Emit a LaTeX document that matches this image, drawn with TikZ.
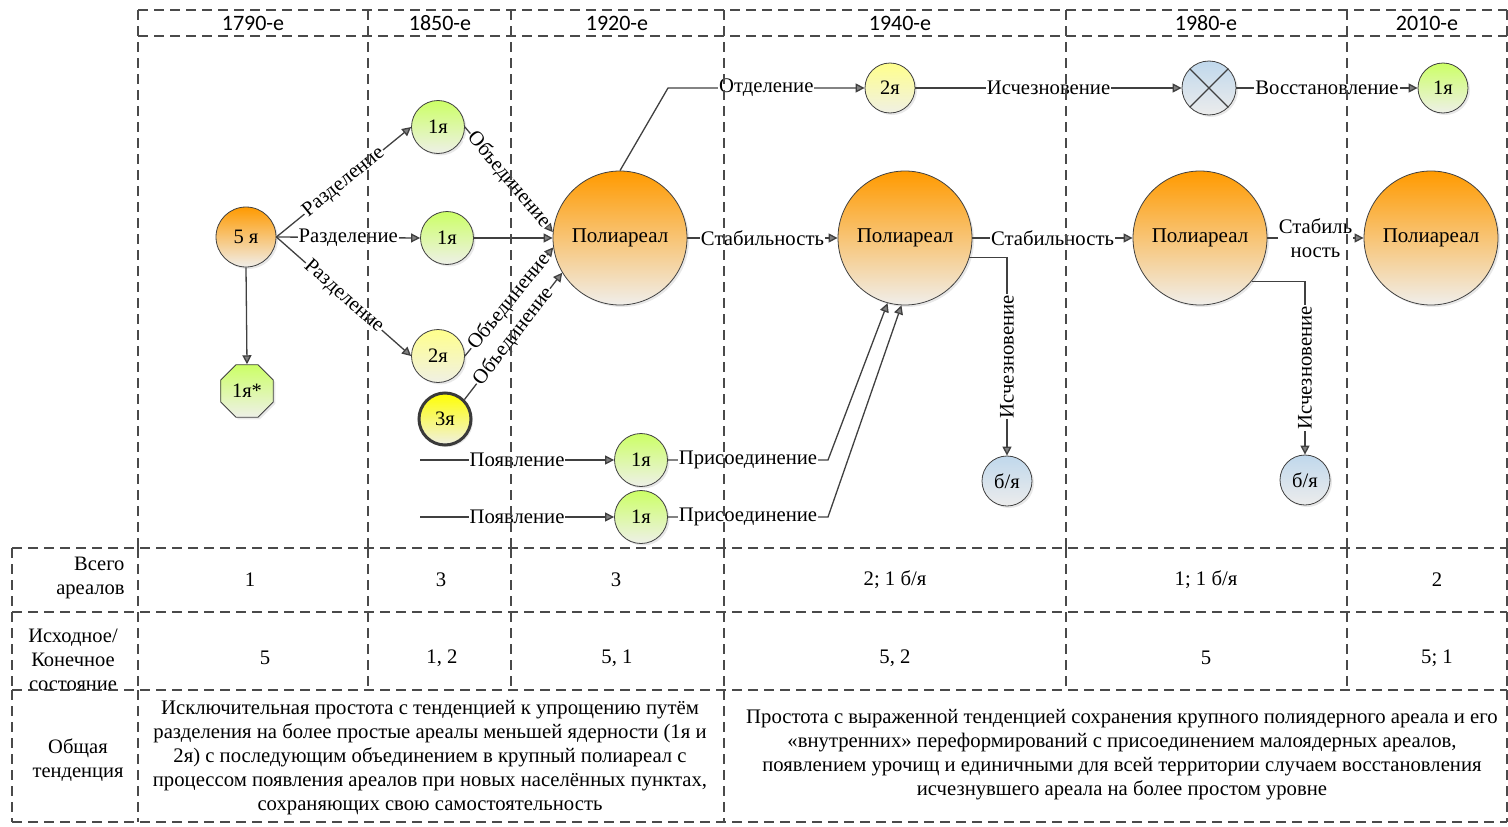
\documentclass[tikz,border=0pt]{standalone}
\usepackage{fontspec}
\setmainfont{Liberation Serif}
\newfontfamily\hdrfont{Carlito}
\usetikzlibrary{arrows.meta,shapes.geometric,shadows}
\definecolor{ln}{HTML}{404040}
\definecolor{dsh}{HTML}{4A4A4A}
\definecolor{orng}{HTML}{FF9A00}
\definecolor{orngb}{HTML}{F0EEEA}
\definecolor{grn}{HTML}{CCFF66}
\definecolor{grnb}{HTML}{EEF0E8}
\definecolor{ylw}{HTML}{FFFF8C}
\definecolor{ylwb}{HTML}{F0F0E4}
\definecolor{ylwt}{HTML}{FFFF00}
\definecolor{blu}{HTML}{C0D8EC}
\definecolor{blub}{HTML}{ECECEC}
\definecolor{tipc}{HTML}{808080}
\begin{document}
\begin{tikzpicture}[x=1pt,y=-1pt,
  every node/.style={font=\fontsize{20.7}{24}\selectfont},
  grid/.style={draw=dsh, line width=1.5pt, dash pattern=on 10pt off 6pt},
  area/.style={circle, draw=ln, line width=0.8pt, inner sep=0pt,
     font=\fontsize{20.5}{24}\selectfont,
     drop shadow={opacity=0.18, shadow xshift=2pt, shadow yshift=-2pt}},
  bigarea/.style={area, minimum size=134pt, top color=orng, bottom color=orngb,
     font=\fontsize{21}{24}\selectfont},
  orarea/.style={area, minimum size=60pt, top color=orng, bottom color=orngb},
  grarea/.style={area, minimum size=53pt, top color=grn, bottom color=grnb},
  ylarea/.style={area, minimum size=53pt, top color=ylw, bottom color=ylwb},
  blarea/.style={area, minimum size=52pt, top color=blu, bottom color=blub},
  conn/.style={draw=ln, line width=1.3pt, -{Triangle[length=9pt, width=9pt, fill=tipc]}},
  lbl/.style={fill=white, inner sep=1pt},
  hdr/.style={font=\hdrfont\fontsize{22}{24}\selectfont},
  rowhead/.style={align=center, font=\fontsize{20.5}{24}\selectfont},
  cell/.style={align=center}
]
\useasboundingbox (0,0) rectangle (1508,827);

% ---------- header ----------
\node[hdr] (h1) at (253,23) {1790-е};
\node[hdr] (h2) at (440,23) {1850-е};
\node[hdr] (h3) at (617,23) {1920-е};
\node[hdr] (h4) at (900,23) {1940-е};
\node[hdr] (h5) at (1206,23) {1980-е};
\node[hdr] (h6) at (1427,23) {2010-е};

% ---------- nodes ----------
\node[orarea] (n5) at (246,237) {5 я};
\node[regular polygon, regular polygon sides=8, minimum size=57pt, inner sep=0pt,
      draw=ln, line width=0.8pt, top color=grn, bottom color=grnb,
      font=\fontsize{20.5}{24}\selectfont,
      drop shadow={opacity=0.18, shadow xshift=2pt, shadow yshift=-2pt}] (oct) at (247,391) {1я*};
\node[grarea] (t1) at (438,127) {1я};
\node[grarea] (m1) at (447,238) {1я};
\node[ylarea] (t2) at (438,356) {2я};
\node[area, minimum size=52pt, draw=ln!90!black, line width=3pt, top color=ylwt, bottom color=ylwb] (t3) at (445,419) {3я};
\node[bigarea] (P1) at (620,238) {Полиареал};
\node[bigarea] (P2) at (905,238) {Полиареал};
\node[bigarea] (P3) at (1200,238) {Полиареал};
\node[bigarea] (P4) at (1431,238) {Полиареал};
\node[ylarea, minimum size=50pt] (u2) at (890,88) {2я};
\node[blarea, minimum size=54pt] (xx) at (1209,88) {};
\draw[ln, line width=1.2pt] (xx.45) -- (xx.225) (xx.135) -- (xx.315);
\node[grarea, minimum size=50pt] (u1) at (1443,88) {1я};
\node[grarea] (g1) at (641,460) {1я};
\node[grarea] (g2) at (641,517) {1я};
\node[blarea, minimum size=50pt] (b1) at (1007,481) {б/я};
\node[blarea, minimum size=50pt] (b2) at (1305,480) {б/я};

\coordinate (c1) at (668,88);
\coordinate (e1) at (420,460);
\coordinate (e2) at (420,517);
\coordinate (k1) at (828,460);
\coordinate (k2) at (828,517);

% ---------- connectors ----------
\draw[conn] (n5.east) -- node[lbl, sloped] {Разделение} (t1.west);
\draw[conn] (n5.east) -- node[lbl] {Разделение} (m1.west);
\draw[conn] (n5.east) -- node[lbl, sloped] {Разделение} (t2.west);
\draw[conn] (n5.south) -- (oct.north);

\draw[conn] (t1.east) -- node[lbl, sloped] {Объединение} (P1.175);
\draw[conn] (m1.east) -- (P1.west);
\draw[conn] (t2.east) -- node[lbl, sloped] {Объединение} (P1.188);
\draw[conn] (t3.45) -- node[lbl, sloped] {Объединение} (P1.211);

\draw[conn] (P1.north) -- (c1) -- node[lbl] {Отделение} (u2.west);
\draw[conn] (u2.east) -- node[lbl] {Исчезновение} (xx.west);
\draw[conn] (xx.east) -- node[lbl] {Восстановление} (u1.west);

\draw[conn] (P1.east) -- node[lbl] {Стабильность} (P2.west);
\draw[conn] (P2.east) -- node[lbl] {Стабильность} (P3.west);
\draw[conn] (P3.east) -- node[lbl, align=center] {Стабиль\\ность} (P4.west);

\draw[conn] (P2.-17) -| node[lbl, pos=0.75, rotate=90] {Исчезновение} (b1.north);
\draw[conn] (P3.-40) -| node[lbl, pos=0.75, rotate=90] {Исчезновение} (b2.north);

\draw[conn] (e1) -- node[lbl] {Появление} (g1.west);
\draw[conn] (e2) -- node[lbl] {Появление} (g2.west);
\draw[conn] (g1.east) -- node[lbl] {Присоединение} (k1) -- (P2.255);
\draw[conn] (g2.east) -- node[lbl] {Присоединение} (k2) -- (P2.267);

% ---------- table ----------
\node[rowhead, align=right, anchor=east] (r1h) at (128,578) {Всего\\ареалов};
\node (r1a) at (250,580) {1};
\node (r1b) at (441,580) {3};
\node (r1c) at (616,580) {3};
\node (r1d) at (895,580) {2; 1 б/я};
\node (r1e) at (1206,580) {1; 1 б/я};
\node (r1f) at (1437,580) {2};

\node[rowhead] (r2h) at (73,660) {Исходное/\\Конечное\\состояние};
\node (r2a) at (265,658) {5};
\node (r2b) at (442,658) {1, 2};
\node (r2c) at (617,658) {5, 1};
\node (r2d) at (895,658) {5, 2};
\node (r2e) at (1206,658) {5};
\node (r2f) at (1437,658) {5; 1};

\node[rowhead] (r3h) at (78,760) {Общая\\тенденция};
\node[cell] (r3a) at (430,758) {Исключительная простота с тенденцией к упрощению путём\\
разделения на более простые ареалы меньшей ядерности (1я и\\
2я) с последующим объединением в крупный полиареал с\\
процессом появления ареалов при новых населённых пунктах,\\
сохраняющих свою самостоятельность};
\node[cell] (r3b) at (1122,755) {Простота с выраженной тенденцией сохранения крупного полиядерного ареала и его\\
«внутренних» переформирований с присоединением малоядерных ареалов,\\
появлением урочищ и единичными для всей территории случаем восстановления\\
исчезнувшего ареала на более простом уровне};

% ---------- grid (on top) ----------
\draw[grid] (138,10) -- (1507,10);
\draw[grid] (138,36) -- (1507,36);
\foreach \x in {138,368,511,724,1066,1347,1507}
  \draw[grid] (\x,10) -- (\x,548);
\foreach \y in {548,612,690,822}
  \draw[grid] (12,\y) -- (1507,\y);
\foreach \x in {12,138,368,511,724,1066,1347,1507}
  \draw[grid] (\x,548) -- (\x,690);
\foreach \x in {12,138,724,1507}
  \draw[grid] (\x,690) -- (\x,822);
\end{tikzpicture}
\end{document}
